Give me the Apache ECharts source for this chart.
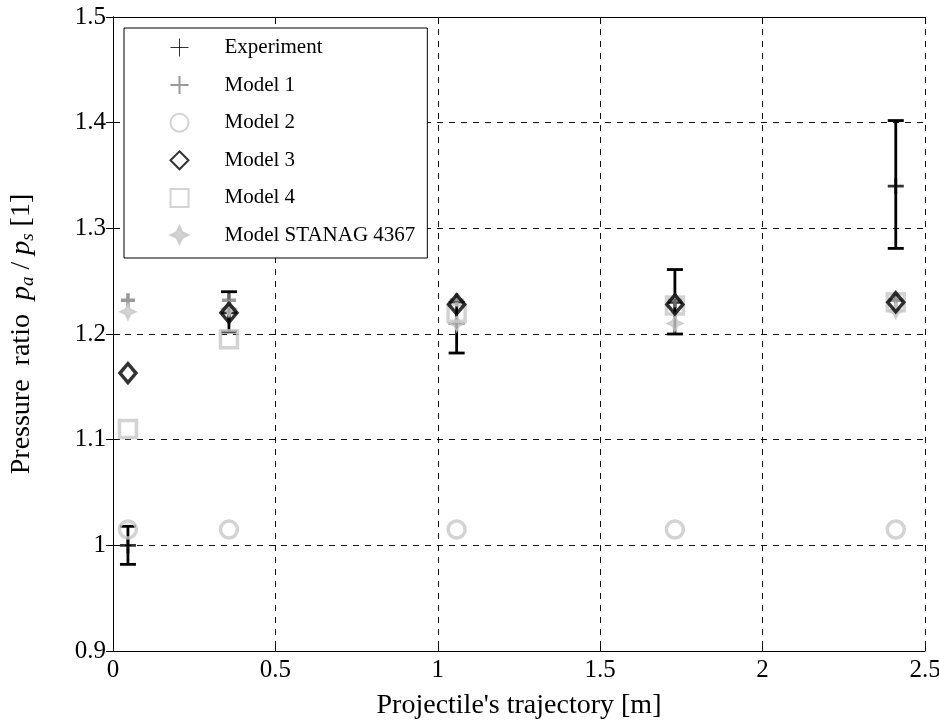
<!DOCTYPE html>
<html>
<head>
<meta charset="utf-8">
<script src="https://cdn.jsdelivr.net/npm/echarts@6/dist/echarts.min.js"></script>
<style>
  html, body { margin: 0; padding: 0; background: #fff; }
  #chart { width: 939px; height: 721px; }
</style>
</head>
<body>
<div id="chart"></div>
<script>
// positions along the trajectory [m]
var positions = [0.046, 0.357, 1.058, 1.73, 2.41];

// experiment with error bars
var expMean = [1.0, 1.22, 1.21, 1.23, 1.34];
var expLow = [0.982, 1.202, 1.182, 1.2, 1.281];
var expHigh = [1.018, 1.24, 1.23, 1.261, 1.402];

var model1 = [1.232, 1.232, 1.232, 1.232, 1.232];
var model2 = [1.015, 1.015, 1.015, 1.015, 1.015];
var model3 = [1.163, 1.22, 1.228, 1.228, 1.23];
var model4 = [1.11, 1.195, 1.22, 1.227, 1.23];
var stanag = [1.221, 1.224, 1.21, 1.21, 1.222];

var xTicks = [0, 2.5, 0.5];
var yTicks = [0.9, 1.5, 0.1];

var font = 'Liberation Serif, Times New Roman, serif';
var plusPath = 'path://M0,5 L10,5 M5,0 L5,10';
var starPath = 'path://M5,0 L6.6,3.4 L10,5 L6.6,6.6 L5,10 L3.4,6.6 L0,5 L3.4,3.4 Z';

function pairs(vals) {
    return positions.map(function (x, i) { return [x, vals[i]]; });
}

var errData = positions.map(function (x, i) { return [x, expLow[i], expHigh[i]]; });

var chart = echarts.init(document.getElementById('chart'));

var axisCommon = {
    type: 'value',
    axisLine: { show: true, lineStyle: { color: '#000', width: 1 } },
    axisTick: { show: true, inside: true, length: 7, lineStyle: { color: '#000' } },
    axisLabel: { show: false },
    splitLine: { show: false }
};
var tickLabel = { color: '#000', fontFamily: font, fontSize: 25, margin: 7 };
var gridLine = { show: true, lineStyle: { color: '#111', type: [6, 6], width: 1 } };

var option = {
    animation: false,
    backgroundColor: '#fff',
    grid: { left: 113, right: 14, top: 17, bottom: 70, containLabel: false, outerBoundsMode: 'none' },
    legend: {
        orient: 'vertical',
        left: 124,
        top: 28,
        padding: [8, 12, 12, 44],
        itemGap: 14.6,
        itemWidth: 18,
        itemHeight: 18,
        borderColor: '#000',
        borderWidth: 1,
        borderRadius: 0,
        backgroundColor: '#fff',
        textStyle: { color: '#000', fontFamily: font, fontSize: 21, lineHeight: 22, padding: [0, 0, 0, 31] },
        data: [
            { name: 'Experiment', itemStyle: { borderWidth: 1 } },
            'Model 1', 'Model 2', 'Model 3', 'Model 4', 'Model STANAG 4367'
        ]
    },
    xAxis: [
        Object.assign({}, axisCommon, {
            min: xTicks[0], max: xTicks[1], interval: xTicks[2],
            axisLabel: tickLabel,
            splitLine: gridLine,
            name: "Projectile's trajectory [m]",
            nameLocation: 'middle',
            nameGap: 41,
            nameTextStyle: { color: '#000', fontFamily: font, fontSize: 28 }
        }),
        Object.assign({}, axisCommon, {
            position: 'top',
            min: xTicks[0], max: xTicks[1], interval: xTicks[2]
        })
    ],
    yAxis: [
        Object.assign({}, axisCommon, {
            min: yTicks[0], max: yTicks[1], interval: yTicks[2],
            axisLabel: tickLabel,
            splitLine: gridLine,
            name: '{a|Pressure  ratio  }{i|p}{s|a}{a| / }{i|p}{s|s}{a| [1]}',
            nameLocation: 'middle',
            nameGap: 76,
            nameRotate: 90,
            nameTextStyle: {
                color: '#000',
                rich: {
                    a: { fontFamily: font, fontSize: 28, color: '#000' },
                    i: { fontFamily: font, fontSize: 28, fontStyle: 'italic', color: '#000' },
                    s: { fontFamily: font, fontSize: 19, fontStyle: 'italic', color: '#000', padding: [12, 0, 0, 0] }
                }
            }
        }),
        Object.assign({}, axisCommon, {
            position: 'right',
            min: yTicks[0], max: yTicks[1], interval: yTicks[2]
        })
    ],
    series: [
        {
            name: 'ExperimentErr',
            type: 'custom',
            data: errData,
            renderItem: function (params, api) {
                var x = api.value(0);
                var lo = api.coord([x, api.value(1)]);
                var hi = api.coord([x, api.value(2)]);
                var w = 8;
                var st = { stroke: '#000', lineWidth: 2.8 };
                return {
                    type: 'group',
                    children: [
                        { type: 'line', shape: { x1: hi[0], y1: hi[1], x2: lo[0], y2: lo[1] }, style: st },
                        { type: 'line', shape: { x1: hi[0] - w, y1: hi[1], x2: hi[0] + w, y2: hi[1] }, style: st },
                        { type: 'line', shape: { x1: lo[0] - w, y1: lo[1], x2: lo[0] + w, y2: lo[1] }, style: st }
                    ]
                };
            },
            z: 1
        },
        {
            name: 'Experiment',
            type: 'scatter',
            data: pairs(expMean),
            symbol: plusPath,
            symbolSize: 16,
            itemStyle: { color: 'none', borderColor: '#000', borderWidth: 2.8 },
            z: 2
        },
        {
            name: 'Model 1',
            type: 'scatter',
            data: pairs(model1),
            symbol: plusPath,
            symbolSize: 14,
            itemStyle: { color: 'none', borderColor: '#808080', borderWidth: 3.5 },
            z: 3
        },
        {
            name: 'Model 2',
            type: 'scatter',
            data: pairs(model2),
            symbol: 'circle',
            symbolSize: 17,
            itemStyle: { color: 'none', borderColor: '#c8c8c8', borderWidth: 3.5 },
            z: 3
        },
        {
            name: 'Model 3',
            type: 'scatter',
            data: pairs(model3),
            symbol: 'diamond',
            symbolSize: [16, 19],
            itemStyle: { color: 'none', borderColor: '#000', borderWidth: 3.5 },
            z: 4
        },
        {
            name: 'Model 4',
            type: 'scatter',
            data: pairs(model4),
            symbol: 'rect',
            symbolSize: 17,
            itemStyle: { color: 'none', borderColor: '#c8c8c8', borderWidth: 3.5 },
            z: 3
        },
        {
            name: 'Model STANAG 4367',
            type: 'scatter',
            data: pairs(stanag),
            symbol: starPath,
            symbolSize: 16,
            itemStyle: { color: '#c8c8c8', borderColor: '#c8c8c8', borderWidth: 1.5 },
            z: 3
        }
    ]
};

chart.setOption(option);
</script>
</body>
</html>
